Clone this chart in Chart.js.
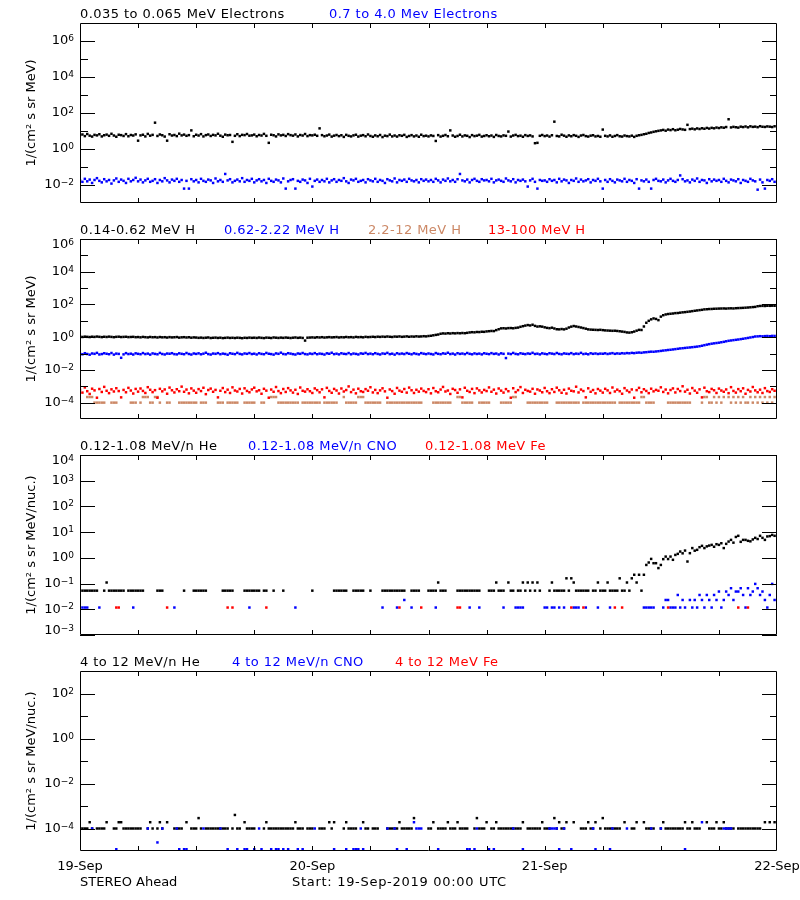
<!DOCTYPE html>
<html>
<head>
<meta charset="utf-8">
<title>STEREO Ahead particle fluxes</title>
<script src="https://cdn.jsdelivr.net/npm/chart.js@4.4.1/dist/chart.umd.min.js"></script>
<style>
  body { margin: 0; background: #fff; font-family: "DejaVu Sans", sans-serif; font-size: 13px; }
  #page { position: relative; width: 800px; height: 900px; overflow: hidden; }
  #page canvas { position: absolute; left: 0; }
  .t { position: absolute; white-space: nowrap; line-height: 15px; color: #000; letter-spacing: 0.45px; }
  .blue { color: #0000ff; }
  .red { color: #ff0000; }
  .salmon { color: #cc8866; }
</style>
</head>
<body>
<div id="page">
  <canvas id="p1" width="800" height="216" style="top:0"></canvas>
  <canvas id="p2" width="800" height="216" style="top:216px"></canvas>
  <canvas id="p3" width="800" height="216" style="top:432px"></canvas>
  <canvas id="p4" width="800" height="252" style="top:648px"></canvas>

  <div class="t" style="left:80px;top:6px">0.035 to 0.065 MeV Electrons</div>
  <div class="t blue" style="left:329px;top:6px">0.7 to 4.0 Mev Electrons</div>

  <div class="t" style="left:80px;top:222px">0.14-0.62 MeV H</div>
  <div class="t blue" style="left:224px;top:222px">0.62-2.22 MeV H</div>
  <div class="t salmon" style="left:368px;top:222px">2.2-12 MeV H</div>
  <div class="t red" style="left:488px;top:222px">13-100 MeV H</div>

  <div class="t" style="left:80px;top:438px">0.12-1.08 MeV/n He</div>
  <div class="t blue" style="left:248px;top:438px">0.12-1.08 MeV/n CNO</div>
  <div class="t red" style="left:425px;top:438px">0.12-1.08 MeV Fe</div>

  <div class="t" style="left:80px;top:654px">4 to 12 MeV/n He</div>
  <div class="t blue" style="left:232px;top:654px">4 to 12 MeV/n CNO</div>
  <div class="t red" style="left:395px;top:654px">4 to 12 MeV Fe</div>

  <div class="t" style="left:80px;top:874px;letter-spacing:0">STEREO Ahead</div>
  <div class="t" style="left:292px;top:874px;letter-spacing:0.7px">Start: 19-Sep-2019 00:00 UTC</div>
</div>

<script>
// one sample every 15 minutes, hours since 19-Sep-2019 00:00 UTC
const stepHours = 0.25;
const _ = null;

const dayTicks = [0, 24, 48, 72];
const dayLabels = ['19-Sep', '20-Sep', '21-Sep', '22-Sep'];
const quarterTicks = [6, 12, 18, 24, 30, 36, 42, 48, 54, 60, 66];

// log10 exponents: labelled (long ticks) and minor (short ticks)
const p1Labels = [-2, 0, 2, 4, 6];
const p1Minor = [-1, 1, 3, 5];
const p2Labels = [-4, -2, 0, 2, 4, 6];
const p2Minor = [-3, -1, 1, 3, 5];
const p3Labels = [-3, -2, -1, 0, 1, 2, 3, 4];
const p4Labels = [-4, -2, 0, 2];
const p4Minor = [-3, -1, 1];

// panel 1: 0.035-0.065 MeV electrons
const elecLo = [
  5.9,6.4,5.2,6.8,5.5,4.9,6.1,5.7,6.6,5.0,5.8,6.3,5.4,7.0,5.6,4.8,6.2,5.9,5.3,6.7,5.1,6.0,5.6,6.5,
  2.9,5.7,6.2,5.0,6.9,5.5,6.1,29,5.3,6.4,5.8,4.9,2.9,6.6,5.6,6.0,5.2,7.1,5.7,6.3,5.4,5.9,10.8,5.1,
  6.2,5.6,6.7,5.0,5.9,6.4,5.3,6.1,5.7,7.0,5.5,4.8,6.3,5.8,6.0,2.5,5.4,6.6,5.2,6.1,5.9,6.8,5.5,5.7,
  6.3,5.1,6.0,5.6,6.9,5.4,2.2,6.2,5.8,5.0,6.5,5.7,6.1,5.3,6.7,5.9,5.5,6.4,5.0,6.0,5.6,6.8,5.2,5.9,
  5.7,6.2,5.4,14,5.9,5.1,5.6,6.3,4.9,5.5,6.0,5.2,5.8,4.7,6.1,5.4,5.0,5.7,6.2,4.9,5.5,5.9,5.1,6.4,
  5.3,4.8,5.7,5.1,6.0,4.6,5.5,5.2,6.3,5.0,5.6,4.9,5.8,5.4,6.1,4.7,5.3,5.9,5.0,5.6,4.8,6.2,5.2,5.5,
  5.0,5.7,5.3,2.8,5.9,4.9,5.4,6.0,5.1,10.8,5.6,4.8,5.3,6.2,5.0,5.7,5.4,4.6,5.9,5.2,5.5,6.1,4.9,5.3,
  5.8,5.1,5.6,4.7,6.0,5.3,5.0,5.7,5.4,9.3,4.9,5.6,6.1,5.2,5.5,4.8,5.9,5.3,5.7,5.0,2.1,2.2,5.4,6.0,
  5.2,5.6,4.9,5.8,33,5.3,5.0,6.2,5.5,4.8,5.7,5.1,5.9,5.4,4.7,5.6,6.0,5.2,4.9,5.5,5.8,5.0,5.3,4.8,
  12,5.4,5.0,5.7,4.8,5.3,5.9,5.1,4.9,5.6,5.2,5.0,5.5,4.7,5.4,5.8,6.1,6.6,7.0,7.8,8.3,9.0,9.6,10.2,
  10.8,11.5,10.4,12.0,11.2,12.6,11.0,11.8,13.0,12.2,11.6,22,12.8,13.5,12.4,13.9,12.9,14.2,13.3,14.8,13.6,15.0,14.1,15.5,
  14.6,16.0,15.2,16.6,45,15.8,17.0,16.2,15.4,17.4,16.5,17.8,16.0,18.2,16.9,17.5,16.3,18.5,17.2,16.8,18.0,17.4,16.6,18.3
];
// panel 1: 0.7-4.0 MeV electrons
const elecHi = [
  .018,.015,.022,.016,.020,.013,.019,.024,.017,.014,.021,.016,.019,.012,.018,.023,.015,.020,.017,.013,.022,.016,.019,.025,
  .016,.020,.014,.018,.022,.015,.017,.021,.013,.019,.016,.024,.018,.014,.020,.017,.022,.015,.019,.0063,.017,.0063,.021,.016,
  .019,.014,.022,.017,.015,.020,.018,.013,.023,.016,.019,.015,.041,.018,.021,.014,.017,.020,.016,.024,.015,.019,.017,.022,
  .014,.018,.021,.016,.019,.013,.022,.017,.015,.020,.018,.014,.023,.0063,.016,.019,.021,.0063,.017,.015,.020,.018,.013,.022,
  .0082,.017,.020,.015,.019,.016,.022,.014,.018,.021,.015,.019,.017,.024,.016,.013,.020,.018,.022,.015,.017,.019,.014,.021,
  .018,.016,.022,.015,.019,.017,.013,.021,.018,.016,.023,.014,.019,.017,.020,.015,.022,.018,.016,.019,.014,.021,.017,.020,
  .016,.019,.015,.022,.018,.014,.020,.017,.023,.016,.019,.015,.021,.041,.018,.016,.020,.014,.019,.022,.017,.015,.021,.018,
  .019,.016,.022,.014,.018,.020,.017,.015,.023,.018,.016,.021,.014,.019,.017,.020,.016,.0082,.018,.022,.015,.0063,.019,.017,
  .018,.015,.021,.017,.019,.014,.022,.016,.020,.018,.013,.019,.017,.023,.015,.020,.016,.018,.021,.014,.019,.017,.022,.016,
  .0063,.019,.015,.021,.017,.014,.020,.018,.016,.022,.015,.019,.017,.013,.021,.0063,.018,.016,.020,.015,.0063,.019,.022,.017,
  .016,.020,.014,.018,.022,.017,.015,.019,.034,.021,.016,.018,.014,.020,.017,.023,.015,.019,.018,.013,.021,.016,.020,.017,
  .019,.015,.022,.017,.014,.020,.018,.016,.021,.013,.019,.017,.015,.022,.018,.016,.0055,.020,.014,.0063,.019,.017,.021,.015
];

// panel 2: protons 0.14-0.62 MeV
const hLow = [
  1.06,1.03,1.08,1.05,1.02,1.07,1.04,1.09,1.05,1.01,1.06,1.03,1.08,1.04,1.00,1.05,1.07,1.02,1.04,1.06,1.01,1.03,1.05,1.00,
  1.02,0.98,1.04,1.00,0.97,1.03,0.99,1.01,0.96,1.02,0.98,1.00,0.95,1.01,0.97,0.99,1.02,0.94,0.98,1.00,0.96,0.99,0.93,0.97,
  0.95,0.91,0.94,0.90,0.93,0.96,0.89,0.92,0.94,0.90,0.93,0.88,0.91,0.94,0.90,0.92,0.89,0.93,0.91,0.87,0.92,0.90,0.94,0.91,
  0.93,0.90,0.95,0.91,0.88,0.94,0.92,0.89,0.96,0.93,0.90,0.94,0.91,0.95,0.92,0.89,0.93,0.96,0.91,0.94,0.90,0.62,0.93,0.95,
  0.97,0.94,0.99,0.96,1.00,0.95,0.98,1.01,0.97,0.99,1.02,0.96,1.00,0.98,1.03,0.99,1.01,0.97,1.04,1.00,1.02,0.98,1.05,1.01,
  1.03,1.06,1.02,1.07,1.04,1.08,1.05,1.10,1.06,1.03,1.09,1.07,1.11,1.05,1.08,1.12,1.06,1.10,1.08,1.13,1.09,1.11,1.15,1.12,
  1.18,1.22,1.30,1.38,1.45,1.62,1.70,1.66,1.74,1.68,1.76,1.71,1.78,1.73,1.80,1.75,1.84,1.95,2.02,1.98,2.08,2.05,2.15,2.12,
  2.25,2.32,2.40,2.36,2.70,3.05,3.45,3.52,3.40,3.58,3.62,3.50,3.70,3.85,4.30,4.70,5.10,5.50,5.20,5.75,4.90,4.45,4.60,4.40,
  4.00,3.70,3.55,3.80,3.40,3.05,3.00,3.15,3.00,3.30,3.90,4.40,4.80,4.50,4.20,3.90,3.60,3.30,3.00,2.90,2.85,2.80,2.75,2.82,
  2.70,2.60,2.55,2.50,2.45,2.48,2.40,2.30,2.20,2.10,1.95,1.90,2.00,2.20,2.50,2.80,2.75,4.50,7.60,10.0,12.3,14.0,13.0,11.0,
  18.0,22.0,24.5,26.0,27.0,28.0,29.5,30.0,31.5,33.0,34.0,35.5,37.0,39.0,41.0,43.0,45.0,47.0,50.0,51.0,52.5,53.0,54.5,55.0,
  56.0,56.5,57.0,56.0,57.5,58.0,57.0,59.0,60.0,61.0,62.0,63.5,65.0,67.0,69.0,71.0,78.0,81.0,82.0,80.5,83.0,82.5,84.0,83.0
];
// panel 2: protons 0.62-2.22 MeV
const hMid = [
  .098,.090,.105,.094,.085,.101,.096,.110,.088,.093,.104,.097,.091,.108,.086,.099,.095,.055,.089,.106,.093,.098,.087,.103,
  .096,.091,.107,.093,.099,.086,.102,.095,.090,.109,.094,.088,.100,.097,.105,.092,.089,.103,.096,.091,.108,.094,.087,.101,
  .095,.103,.090,.098,.112,.093,.087,.100,.096,.106,.091,.099,.094,.085,.104,.097,.092,.110,.095,.089,.101,.096,.107,.093,
  .098,.088,.104,.095,.091,.109,.097,.093,.086,.102,.096,.113,.094,.090,.105,.099,.092,.087,.101,.096,.108,.093,.089,.100,
  .094,.106,.091,.099,.095,.087,.103,.097,.112,.092,.098,.089,.104,.096,.093,.107,.090,.100,.095,.088,.102,.097,.109,.093,
  .099,.091,.105,.095,.088,.101,.096,.110,.092,.098,.086,.104,.094,.100,.093,.107,.097,.090,.103,.095,.089,.106,.098,.092,
  .101,.094,.088,.107,.096,.091,.103,.097,.112,.093,.099,.087,.105,.095,.100,.092,.108,.096,.090,.102,.094,.099,.089,.104,
  .097,.092,.106,.095,.100,.088,.103,.096,.053,.099,.093,.109,.095,.090,.104,.097,.092,.101,.096,.111,.094,.098,.089,.103,
  .096,.091,.105,.099,.093,.108,.095,.090,.102,.097,.094,.106,.092,.099,.095,.110,.093,.098,.090,.104,.096,.101,.094,.099,
  .097,.103,.094,.100,.106,.096,.102,.098,.105,.101,.107,.104,.110,.106,.112,.115,.111,.118,.121,.126,.130,.128,.134,.139,
  .145,.152,.158,.165,.170,.178,.186,.195,.205,.212,.220,.228,.236,.245,.255,.265,.280,.300,.325,.350,.375,.400,.420,.440,
  .460,.490,.520,.560,.600,.630,.660,.690,.720,.760,.800,.850,.900,.960,1.02,1.10,1.12,1.15,1.13,1.16,1.18,1.15,1.20,1.19
];
// panel 2: protons 2.2-12 MeV
const hHigh = [
  _,_,_,2.2e-4,2.2e-4,2.2e-4,1e-4,1e-4,1e-4,1e-4,1e-4,_,_,1e-4,1e-4,1e-4,_,_,_,_,_,1e-4,1e-4,1e-4,
  _,1e-4,2.2e-4,2.2e-4,2.2e-4,1e-4,1e-4,2.2e-4,2.2e-4,1e-4,_,_,1e-4,1e-4,_,_,_,1e-4,1e-4,1e-4,1e-4,1e-4,1e-4,1e-4,
  1e-4,_,1e-4,1e-4,1e-4,_,_,_,_,1e-4,1e-4,1e-4,_,1e-4,1e-4,1e-4,1e-4,1e-4,_,_,1e-4,1e-4,1e-4,1e-4,
  1e-4,_,_,1e-4,1e-4,_,_,2.2e-4,2.2e-4,2.2e-4,1e-4,1e-4,1e-4,1e-4,1e-4,1e-4,1e-4,1e-4,1e-4,_,1e-4,1e-4,1e-4,1e-4,
  1e-4,1e-4,1e-4,1e-4,_,1e-4,1e-4,1e-4,1e-4,1e-4,1e-4,_,_,2.2e-4,1e-4,1e-4,1e-4,1e-4,1e-4,2.2e-4,2.2e-4,2.2e-4,1e-4,1e-4,
  1e-4,1e-4,1e-4,1e-4,1e-4,_,_,1e-4,1e-4,1e-4,1e-4,1e-4,1e-4,1e-4,1e-4,1e-4,1e-4,1e-4,1e-4,1e-4,1e-4,1e-4,_,_,
  _,_,1e-4,1e-4,1e-4,1e-4,1e-4,1e-4,1e-4,1e-4,_,_,2.2e-4,2.2e-4,1e-4,1e-4,1e-4,1e-4,1e-4,_,_,1e-4,1e-4,1e-4,
  1e-4,1e-4,_,_,_,_,1e-4,1e-4,1e-4,1e-4,1e-4,2.2e-4,2.2e-4,_,_,_,_,1e-4,1e-4,1e-4,1e-4,1e-4,1e-4,1e-4,
  1e-4,1e-4,_,_,_,1e-4,1e-4,1e-4,1e-4,1e-4,1e-4,1e-4,1e-4,1e-4,1e-4,_,1e-4,1e-4,1e-4,1e-4,1e-4,1e-4,1e-4,1e-4,
  1e-4,1e-4,1e-4,1e-4,1e-4,1e-4,_,1e-4,1e-4,1e-4,1e-4,1e-4,1e-4,1e-4,1e-4,1e-4,2.2e-4,2.2e-4,1e-4,1e-4,1e-4,1e-4,_,_,
  _,_,_,1e-4,1e-4,1e-4,1e-4,1e-4,1e-4,1e-4,1e-4,1e-4,1e-4,_,_,_,_,1e-4,2.2e-4,2.2e-4,1e-4,1e-4,2.2e-4,1e-4,
  2.2e-4,1e-4,2.2e-4,_,2.2e-4,1e-4,2.2e-4,1e-4,2.2e-4,1e-4,2.2e-4,1e-4,1e-4,2.2e-4,1e-4,2.2e-4,1e-4,2.2e-4,1e-4,2.2e-4,1e-4,2.2e-4,1e-4,2.2e-4
];
// panel 2: protons 13-100 MeV
const hVery = [
  6.2e-4,4.1e-4,8.5e-4,5.0e-4,3.4e-4,7.1e-4,5.6e-4,2.0e-4,6.8e-4,4.5e-4,9.2e-4,5.3e-4,3.8e-4,6.5e-4,4.8e-4,7.6e-4,5.1e-4,2.1e-4,6.0e-4,4.3e-4,8.0e-4,5.5e-4,3.6e-4,6.9e-4,
  4.7e-4,7.3e-4,5.2e-4,3.9e-4,8.8e-4,6.1e-4,4.4e-4,5.8e-4,2.0e-4,7.0e-4,4.9e-4,6.4e-4,3.5e-4,8.3e-4,5.7e-4,4.2e-4,6.6e-4,5.0e-4,9.5e-4,4.6e-4,6.3e-4,3.7e-4,7.4e-4,5.4e-4,
  4.0e-4,6.7e-4,5.1e-4,8.1e-4,3.3e-4,5.9e-4,7.2e-4,4.6e-4,6.0e-4,2.1e-4,5.3e-4,7.8e-4,4.4e-4,6.2e-4,3.9e-4,8.6e-4,5.5e-4,4.8e-4,6.9e-4,3.6e-4,7.5e-4,5.2e-4,4.3e-4,6.4e-4,
  8.2e-4,4.9e-4,5.7e-4,3.5e-4,7.0e-4,5.4e-4,2.0e-4,6.3e-4,4.6e-4,9.0e-4,5.1e-4,3.8e-4,6.8e-4,4.5e-4,7.7e-4,5.6e-4,4.1e-4,6.1e-4,3.4e-4,8.4e-4,5.3e-4,4.7e-4,6.6e-4,5.0e-4,
  3.9e-4,7.4e-4,5.8e-4,4.3e-4,6.5e-4,2.1e-4,8.0e-4,5.2e-4,4.0e-4,6.9e-4,5.5e-4,3.6e-4,7.3e-4,4.8e-4,5.9e-4,9.8e-4,4.4e-4,6.2e-4,3.7e-4,7.1e-4,5.0e-4,4.5e-4,6.7e-4,5.3e-4,
  8.7e-4,4.2e-4,6.0e-4,3.8e-4,5.6e-4,7.5e-4,4.9e-4,2.0e-4,6.4e-4,5.1e-4,3.5e-4,7.9e-4,5.4e-4,4.6e-4,6.8e-4,4.1e-4,8.3e-4,5.7e-4,3.9e-4,6.1e-4,4.7e-4,7.2e-4,5.2e-4,4.4e-4,
  6.6e-4,3.7e-4,7.8e-4,5.0e-4,4.3e-4,6.3e-4,9.1e-4,4.8e-4,5.5e-4,3.4e-4,7.0e-4,5.9e-4,4.0e-4,6.5e-4,2.1e-4,8.1e-4,5.3e-4,4.5e-4,6.9e-4,3.8e-4,7.4e-4,5.6e-4,4.2e-4,6.0e-4,
  5.1e-4,8.5e-4,4.6e-4,6.2e-4,3.6e-4,7.3e-4,5.4e-4,4.1e-4,6.7e-4,5.0e-4,2.0e-4,7.6e-4,4.4e-4,5.8e-4,8.9e-4,3.9e-4,6.1e-4,5.2e-4,4.7e-4,7.0e-4,3.5e-4,6.4e-4,5.5e-4,4.3e-4,
  7.9e-4,5.0e-4,3.8e-4,6.6e-4,4.5e-4,8.2e-4,5.7e-4,4.0e-4,6.1e-4,3.6e-4,7.2e-4,5.3e-4,4.9e-4,9.4e-4,4.2e-4,6.3e-4,5.1e-4,2.1e-4,7.5e-4,4.6e-4,5.9e-4,3.7e-4,6.8e-4,5.4e-4,
  4.1e-4,7.0e-4,5.6e-4,3.9e-4,8.4e-4,4.8e-4,6.2e-4,5.0e-4,3.5e-4,7.7e-4,5.5e-4,4.4e-4,6.4e-4,2.0e-4,5.8e-4,8.0e-4,4.3e-4,6.6e-4,5.2e-4,3.8e-4,7.1e-4,4.9e-4,6.0e-4,5.3e-4,
  8.6e-4,4.5e-4,6.3e-4,3.7e-4,5.9e-4,7.4e-4,4.2e-4,6.8e-4,5.1e-4,1.0e-3,4.7e-4,6.1e-4,3.6e-4,7.8e-4,5.4e-4,4.0e-4,6.5e-4,2.1e-4,8.2e-4,5.0e-4,4.4e-4,6.9e-4,5.7e-4,3.9e-4,
  7.2e-4,5.5e-4,4.6e-4,6.4e-4,3.8e-4,8.8e-4,5.2e-4,4.1e-4,6.7e-4,5.0e-4,7.5e-4,3.5e-4,6.0e-4,4.8e-4,9.0e-4,5.6e-4,4.3e-4,6.2e-4,3.9e-4,7.7e-4,5.1e-4,4.5e-4,6.6e-4,5.3e-4
];

// panel 3: 0.12-1.08 MeV/n He
const heLow = [
  _,.053,.053,.053,.053,.053,.053,.053,_,_,.053,.11,.053,.053,.053,.053,.053,.053,.053,_,.053,.053,.053,.053,
  .053,.053,.053,_,_,_,_,_,.053,.053,.053,_,_,_,_,_,_,_,_,.053,_,_,_,.053,
  .053,.053,.053,.053,.053,_,_,_,_,_,_,.053,.053,.053,.053,.053,_,_,_,_,.053,.053,.053,.053,
  .053,.053,.053,_,.053,.053,_,_,.053,_,_,_,.053,_,_,_,_,_,_,_,_,_,_,_,
  .053,_,_,_,_,_,_,_,_,.053,.053,.053,.053,.053,.053,_,_,.053,.053,.053,.053,.053,_,_,
  .053,_,_,_,_,.053,.053,.053,.053,.053,.053,.053,.053,.053,.053,_,_,.053,.053,.053,.053,_,_,_,
  .053,.053,.053,.053,.11,.053,.053,.053,_,_,_,_,.053,.053,.053,.053,.053,.053,.053,.053,.053,.053,_,_,
  _,.053,.053,.053,.11,.053,.053,.053,_,.11,.053,.053,_,.053,.053,.11,.053,.11,.053,.11,.053,.11,.053,_,
  _,_,.053,.11,.053,.053,.053,.053,.053,.16,.053,.16,.11,.053,.053,.053,.053,.053,.053,_,.053,.053,.11,.053,
  .053,.053,.11,.053,.053,.053,.053,.16,.053,.053,.11,.053,.16,.22,.11,.22,.053,.22,.53,.66,.91,.62,.62,.40,
  .53,.89,1.12,.90,1.12,.84,1.30,1.43,1.76,1.50,1.92,.72,1.52,2.40,1.90,2.05,2.60,2.93,2.40,2.80,3.00,3.20,2.70,3.40,
  3.20,3.70,2.40,3.50,4.30,5.00,3.90,6.50,7.20,4.20,5.00,5.00,4.60,4.40,5.20,6.00,5.40,7.20,6.00,5.00,6.80,7.00,7.80,7.20
];
// panel 3: 0.12-1.08 MeV/n CNO
const cnoLow = [
  _,.0117,.0117,.0117,_,_,_,_,.0117,_,_,_,_,_,_,_,_,_,_,_,_,_,.0117,_,
  _,_,_,_,_,_,_,_,_,_,_,_,_,_,_,.0117,_,_,_,_,_,_,_,_,
  _,_,_,_,_,_,_,_,_,_,_,_,_,_,_,_,_,_,_,_,_,_,.0117,_,
  _,_,_,_,_,_,_,_,_,_,_,_,_,_,_,_,_,.0117,_,_,_,_,_,_,
  _,_,_,_,_,_,_,_,_,_,_,_,_,_,_,_,_,_,_,_,_,_,_,_,
  _,_,_,_,_,.0117,_,_,_,_,_,.0117,_,_,.023,_,_,.0117,_,_,_,_,_,_,
  _,_,_,.0117,_,_,_,_,_,_,_,_,_,_,_,_,_,.0117,_,_,_,.0117,_,_,
  _,_,_,_,_,_,_,.0117,_,_,_,_,.0117,.0117,.0117,.0117,_,_,_,_,_,_,_,_,
  .0117,.0117,_,.0117,.0117,_,.0117,_,.0117,_,_,_,.0117,.0117,.0117,_,_,.0117,_,_,_,_,.0117,_,
  _,_,_,.0117,_,_,_,_,_,_,_,_,_,_,_,_,_,.0117,.0117,.0117,.0117,.0117,_,_,
  _,.0117,.023,.023,.0117,.0117,.0117,.036,.0117,.023,.0117,_,.023,.0117,.023,.0117,.036,.023,.0117,.036,.023,.0117,.036,.023,
  .049,.0117,.023,.049,.036,.066,.023,.049,.049,.066,.036,.0117,.066,.036,.049,.097,.066,.036,.049,.023,.0117,.036,.097,.023
];
// panel 3: 0.12-1.08 MeV Fe
const feLow = [
  _,_,_,_,_,_,_,_,_,_,_,_,_,_,_,.0117,.0117,_,_,_,_,_,_,_,
  _,_,_,_,_,_,_,_,_,_,_,_,.0117,_,_,_,_,_,_,_,_,_,_,_,
  _,_,_,_,_,_,_,_,_,_,_,_,_,.0117,_,.0117,_,_,_,_,_,_,_,_,
  _,_,_,_,_,.0117,_,_,_,_,_,_,_,_,_,_,_,_,_,_,_,_,_,_,
  _,_,_,_,_,_,_,_,_,_,_,_,_,_,_,_,_,_,_,_,_,_,_,_,
  _,_,_,_,_,_,_,_,_,_,_,_,.0117,_,_,_,_,_,_,_,_,.0117,_,_,
  _,_,_,_,_,_,_,_,_,_,_,_,.0117,.0117,_,_,_,_,_,_,_,_,_,_,
  _,_,_,_,_,_,_,_,_,_,_,_,_,_,_,_,_,_,_,_,_,_,_,_,
  _,_,_,_,_,_,_,_,_,_,_,.0117,_,_,_,_,.0117,_,_,_,_,_,_,_,
  _,_,_,_,_,.0117,_,_,.0117,_,_,_,_,_,_,_,_,_,_,_,_,_,_,_,
  _,_,_,.0117,_,_,_,_,_,_,_,_,_,_,_,_,_,_,_,_,_,_,_,_,
  _,_,_,_,_,_,_,_,.0117,_,_,_,.0117,_,_,_,_,_,_,_,_,_,_,_
];

// panel 4: 4-12 MeV/n He
const heHigh = [
  1e-4,1e-4,1e-4,1e-4,1.9e-4,1e-4,_,1e-4,1e-4,1e-4,1e-4,1.9e-4,_,_,1e-4,1e-4,1.9e-4,1.9e-4,1e-4,1e-4,1e-4,1e-4,1e-4,1e-4,
  1e-4,1e-4,_,_,1e-4,1.9e-4,1e-4,_,1e-4,1.9e-4,1e-4,_,1.9e-4,_,_,1e-4,1e-4,1e-4,1e-4,_,1.9e-4,_,1e-4,1e-4,
  1e-4,2.9e-4,1e-4,_,1e-4,1e-4,1e-4,1e-4,1e-4,1e-4,1e-4,1e-4,1e-4,1e-4,_,1e-4,4e-4,1e-4,1e-4,_,1.9e-4,1e-4,1e-4,1e-4,
  1e-4,_,_,_,1e-4,1.9e-4,1e-4,1e-4,1e-4,1e-4,1e-4,1e-4,1e-4,1e-4,1e-4,1e-4,1e-4,1.9e-4,1e-4,1e-4,1e-4,_,1e-4,1e-4,
  1e-4,_,_,1e-4,1e-4,1e-4,_,1.9e-4,1e-4,1.9e-4,_,_,_,1e-4,1.9e-4,1e-4,1e-4,1e-4,1e-4,_,_,1.9e-4,1e-4,1e-4,
  _,1e-4,1e-4,1e-4,_,_,_,1e-4,1e-4,1e-4,1e-4,1e-4,1.9e-4,1e-4,1e-4,1e-4,1e-4,1e-4,2.9e-4,_,_,_,_,_,
  1e-4,1e-4,1.9e-4,_,1e-4,1e-4,1e-4,1e-4,1.9e-4,1e-4,1e-4,1e-4,1.9e-4,1e-4,1e-4,1e-4,1e-4,_,_,1e-4,2.9e-4,1e-4,1e-4,1e-4,
  1.9e-4,_,1e-4,1e-4,1.9e-4,1e-4,1e-4,1e-4,1e-4,1e-4,1e-4,1e-4,1e-4,1e-4,1e-4,1.9e-4,_,1e-4,1e-4,1e-4,1e-4,1e-4,1e-4,1.9e-4,
  1e-4,1e-4,1e-4,_,2.9e-4,1e-4,1.9e-4,1e-4,1e-4,1.9e-4,_,_,1.9e-4,_,_,1e-4,1e-4,1e-4,1.9e-4,1e-4,1e-4,1.9e-4,_,1e-4,
  2.9e-4,1e-4,1e-4,1e-4,1e-4,1e-4,1e-4,1e-4,_,1.9e-4,_,_,1e-4,1e-4,1.9e-4,_,_,1.9e-4,1e-4,1e-4,1e-4,1e-4,_,_,
  1e-4,1.9e-4,1e-4,1e-4,1e-4,1e-4,1e-4,1e-4,1e-4,1e-4,1.9e-4,1e-4,1e-4,1.9e-4,1e-4,1e-4,1e-4,_,_,1.9e-4,1e-4,1e-4,1e-4,1.9e-4,
  1e-4,1e-4,1.9e-4,1e-4,1e-4,1e-4,1e-4,_,1e-4,1e-4,1e-4,1e-4,1e-4,1e-4,1e-4,1e-4,1e-4,1e-4,_,1.9e-4,_,1.9e-4,_,1.9e-4
];
// panel 4: 4-12 MeV/n CNO
const cnoHigh = [
  _,_,_,_,_,1e-4,_,_,_,_,_,_,_,_,_,1.2e-5,_,_,_,_,_,_,_,_,
  _,_,_,_,1e-4,_,_,_,2.4e-5,_,1e-4,_,_,_,_,_,1e-4,1.2e-5,_,1.2e-5,1.2e-5,_,_,_,
  _,_,_,1e-4,_,_,_,_,_,_,1e-4,_,_,1.2e-5,_,_,_,1.2e-5,_,_,1.2e-5,1.2e-5,_,_,
  1.2e-5,_,1e-4,1.2e-5,_,_,_,1.2e-5,_,1.2e-5,1.2e-5,_,1.2e-5,_,1.2e-5,_,_,_,1.2e-5,_,1.2e-5,_,_,_,
  _,1e-4,_,_,_,_,_,_,_,1.2e-5,_,_,_,_,1.2e-5,_,_,1.2e-5,1.2e-5,1.2e-5,1e-4,1.2e-5,_,_,
  _,_,_,_,_,_,_,1e-4,_,_,1e-4,1.2e-5,_,_,_,1.2e-5,_,_,1.9e-4,1e-4,1e-4,1e-4,_,_,
  _,_,_,_,1.2e-5,_,_,_,_,_,_,_,_,_,_,_,1.2e-5,1.2e-5,_,1.2e-5,1e-4,_,_,_,
  _,1.2e-5,_,1.2e-5,_,_,_,_,_,_,_,1e-4,_,_,_,1.2e-5,_,_,_,_,_,_,_,_,
  _,_,1e-4,1e-4,1e-4,1e-4,1.2e-5,_,1e-4,_,_,1.2e-5,_,_,_,_,_,_,_,_,1e-4,1.2e-5,_,_,
  _,_,_,1.2e-5,1e-4,_,_,_,_,_,1e-4,_,_,_,_,_,_,_,_,_,1e-4,_,_,_,
  1e-4,_,_,_,_,_,_,_,_,_,1.2e-5,_,_,_,_,_,_,1.9e-4,_,_,_,_,_,_,
  _,_,1e-4,1e-4,1e-4,1e-4,_,_,_,_,_,_,_,_,_,_,_,_,_,_,_,_,_,_
];
// panel 4: 4-12 MeV Fe (no counts in this interval)
const feHigh = [];

Chart.defaults.font.family = '"DejaVu Sans", sans-serif';
Chart.defaults.font.size = 13;
Chart.defaults.color = '#000';

const toPoints = vals => vals
  .map((v, i) => ({ x: i * stepHours, y: v }))
  .filter(p => p.y !== null);

// box, inward ticks on all four sides and 10^n labels
const frame = {
  id: 'frame',
  afterDatasetsDraw(chart, args, o) {
    const { ctx, chartArea: a, scales: { x, y } } = chart;
    ctx.save();
    ctx.strokeStyle = '#000';
    ctx.lineWidth = 1;
    ctx.beginPath();
    ctx.rect(a.left + 0.5, a.top + 0.5, a.right - a.left - 1, a.bottom - a.top - 1);
    for (const t of quarterTicks) {
      const px = Math.round(x.getPixelForValue(t)) + 0.5;
      ctx.moveTo(px, a.bottom); ctx.lineTo(px, a.bottom - 5);
      ctx.moveTo(px, a.top); ctx.lineTo(px, a.top + 5);
    }
    const yTick = (e, len, lenR) => {
      const py = Math.round(y.getPixelForValue(10 ** e)) + 0.5;
      ctx.moveTo(a.left, py); ctx.lineTo(a.left + len, py);
      ctx.moveTo(a.right, py); ctx.lineTo(a.right - lenR, py);
    };
    o.labels.forEach(e => yTick(e, 15, 15));
    o.minor.forEach(e => yTick(e, 8, 7));
    ctx.stroke();

    ctx.fillStyle = '#000';
    for (const e of o.labels) {
      let py = y.getPixelForValue(10 ** e);
      py = Math.min(Math.max(py, a.top + 6), a.bottom - 4);
      const ex = String(e).replace('-', '\u2212');
      const right = a.left - 6;
      ctx.font = '9px "DejaVu Sans"';
      const ew = ctx.measureText(ex).width;
      ctx.textAlign = 'left';
      ctx.textBaseline = 'alphabetic';
      ctx.fillText(ex, right - ew, py);
      ctx.font = '13px "DejaVu Sans"';
      ctx.textAlign = 'right';
      ctx.textBaseline = 'middle';
      ctx.fillText('10', right - ew, py);
    }
    ctx.restore();
  }
};

const panels = [
  { id: 'p1', range: [-3, 7], labels: p1Labels, minor: p1Minor, yTitle: '1/(cm\u00b2 s sr MeV)',
    series: [[elecLo, '#000000'], [elecHi, '#0000ff']] },
  { id: 'p2', range: [-5, 6], labels: p2Labels, minor: p2Minor, yTitle: '1/(cm\u00b2 s sr MeV)',
    series: [[hLow, '#000000'], [hMid, '#0000ff'], [hHigh, '#cc8866'], [hVery, '#ff0000']] },
  { id: 'p3', range: [-3, 4], labels: p3Labels, minor: [], yTitle: '1/(cm\u00b2 s sr MeV/nuc.)',
    series: [[heLow, '#000000'], [cnoLow, '#0000ff'], [feLow, '#ff0000']] },
  { id: 'p4', range: [-5, 3], labels: p4Labels, minor: p4Minor, yTitle: '1/(cm\u00b2 s sr MeV/nuc.)',
    series: [[heHigh, '#000000'], [cnoHigh, '#0000ff'], [feHigh, '#ff0000']], dates: true }
];

for (const p of panels) {
  const axisHeight = p.dates ? 36 : 0;
  new Chart(document.getElementById(p.id), {
    type: 'scatter',
    data: {
      datasets: p.series.map(([vals, color], k) => ({
        data: toPoints(vals),
        order: p.series.length - k,
        pointStyle: 'rect',
        pointRadius: 1.75,
        pointBorderWidth: 0,
        pointBackgroundColor: color,
        showLine: false
      }))
    },
    options: {
      responsive: false,
      devicePixelRatio: 1,
      animation: false,
      events: [],
      layout: { padding: { top: 23, right: 23, bottom: 13, left: 0 } },
      plugins: {
        legend: { display: false },
        tooltip: { enabled: false },
        frame: { labels: p.labels, minor: p.minor }
      },
      scales: {
        x: {
          type: 'linear', min: 0, max: 72,
          display: !!p.dates,
          grid: { display: false, drawTicks: false },
          border: { display: false },
          afterBuildTicks: s => { s.ticks = dayTicks.map(v => ({ value: v })); },
          afterFit: s => { s.height = axisHeight; s.paddingLeft = 0; s.paddingRight = 0; },
          ticks: {
            autoSkip: false, maxRotation: 0, padding: 8,
            font: { size: 13 },
            callback: v => dayLabels[dayTicks.indexOf(v)]
          }
        },
        y: {
          type: 'logarithmic', min: 10 ** p.range[0], max: 10 ** p.range[1],
          grid: { display: false, drawTicks: false },
          border: { display: false },
          ticks: { display: false },
          afterFit: s => { s.width = 80; s.paddingTop = 0; s.paddingBottom = 0; },
          title: {
            display: true, text: p.yTitle,
            font: { size: 13 },
            padding: { top: 24, bottom: 0 }
          }
        }
      }
    },
    plugins: [frame]
  });
}
</script>
</body>
</html>
